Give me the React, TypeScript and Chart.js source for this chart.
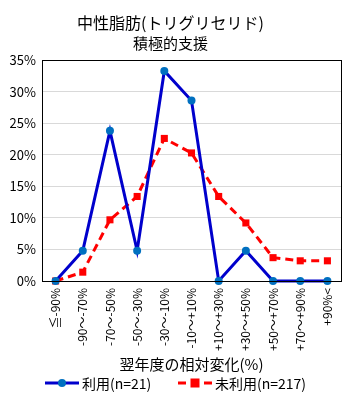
import React, { useEffect, useRef } from "react";
import { Chart, registerables } from "chart.js";

Chart.register(...registerables);

const FONT = "'Noto Sans CJK JP', 'Noto Sans', sans-serif";

const titleText = "中性脂肪(トリグリセリド)";
const subtitleText = "積極的支援";
const xAxisTitle = "翌年度の相対変化(%)";

const categories = [
  "≦-90%",
  "-90～-70%",
  "-70～-50%",
  "-50～-30%",
  "-30～-10%",
  "-10～+10%",
  "+10～+30%",
  "+30～+50%",
  "+50～+70%",
  "+70～+90%",
  "+90%<",
];

const usedLabel = "利用(n=21)";
const usedValues = [0, 4.8, 23.8, 4.8, 33.3, 28.6, 0, 4.8, 0, 0, 0];

const unusedLabel = "未利用(n=217)";
const unusedValues = [0, 1.4, 9.7, 13.4, 22.6, 20.3, 13.4, 9.2, 3.7, 3.2, 3.2];

const yMin = 0;
const yMax = 35;
const yStep = 5;

const legendPlugin = {
  id: "customLegend",
  afterDraw(chart: any) {
    const ctx = chart.ctx;
    const y = 383;
    ctx.save();
    ctx.font = `14px ${FONT}`;
    ctx.textBaseline = "middle";
    ctx.fillStyle = "#000";
    const items = [
      { x: 45, ds: chart.data.datasets[0] },
      { x: 178, ds: chart.data.datasets[1] },
    ];
    items.forEach(({ x, ds }) => {
      const lw = 34;
      ctx.strokeStyle = ds.borderColor;
      ctx.lineWidth = 3;
      ctx.setLineDash(ds.borderDash || []);
      ctx.beginPath();
      ctx.moveTo(x, y);
      ctx.lineTo(x + lw, y);
      ctx.stroke();
      ctx.setLineDash([]);
      ctx.fillStyle = ds.pointBackgroundColor;
      if (ds.pointStyle === "rect") {
        ctx.fillRect(x + lw / 2 - 4.5, y - 4.5, 9, 9);
      } else {
        ctx.beginPath();
        ctx.arc(x + lw / 2, y, 4, 0, Math.PI * 2);
        ctx.fill();
      }
      ctx.fillStyle = "#000";
      ctx.textAlign = "left";
      ctx.fillText(ds.label, x + lw + 3, y + 1);
    });
    ctx.restore();
  },
};

const borderPlugin = {
  id: "plotBorder",
  afterDatasetsDraw(chart: any) {
    const { ctx, chartArea } = chart;
    ctx.save();
    ctx.strokeStyle = "#000";
    ctx.lineWidth = 1;
    ctx.strokeRect(
      Math.round(chartArea.left) + 0.5,
      Math.round(chartArea.top) + 0.5,
      Math.round(chartArea.right - chartArea.left),
      Math.round(chartArea.bottom - chartArea.top)
    );
    ctx.restore();
  },
};

export default function App() {
  const ref = useRef<HTMLCanvasElement>(null);

  useEffect(() => {
    document.body.style.margin = "0";
    const canvas = ref.current;
    if (!canvas) return;
    const chart = new Chart(canvas, {
      type: "line",
      data: {
        labels: categories,
        datasets: [
          {
            label: usedLabel,
            data: usedValues,
            borderColor: "#0000CC",
            borderWidth: 3,
            pointStyle: "circle",
            pointRadius: 4,
            pointBackgroundColor: "#0070C0",
            pointBorderColor: "#0070C0",
            pointBorderWidth: 0,
            tension: 0,
            clip: false,
          } as any,
          {
            label: unusedLabel,
            data: unusedValues,
            borderColor: "#FF0000",
            borderWidth: 3,
            borderDash: [8, 5],
            pointStyle: "rect",
            pointRadius: 5,
            pointBackgroundColor: "#FF0000",
            pointBorderColor: "#FF0000",
            pointBorderWidth: 0,
            tension: 0,
            clip: false,
          } as any,
        ],
      },
      options: {
        animation: false,
        responsive: false,
        devicePixelRatio: 1,
        layout: { padding: { left: 0, right: 14, top: 0, bottom: 28 } },
        plugins: {
          legend: { display: false },
          tooltip: { enabled: false },
          title: {
            display: true,
            text: titleText,
            color: "#000",
            font: { family: FONT, size: 16, weight: "normal" },
            padding: { top: 13, bottom: 2 },
          },
          subtitle: {
            display: true,
            text: subtitleText,
            color: "#000",
            font: { family: FONT, size: 15, weight: "normal" },
            padding: { top: 0, bottom: 8 },
          },
        },
        scales: {
          x: {
            offset: true,
            grid: { display: false, drawTicks: false },
            border: { display: true, color: "#000" },
            ticks: {
              color: "#000",
              font: { family: FONT, size: 12 },
              maxRotation: 90,
              minRotation: 90,
              autoSkip: false,
              padding: 7,
            },
            title: {
              display: true,
              text: xAxisTitle,
              color: "#000",
              font: { family: FONT, size: 15 },
              padding: { top: 0, bottom: 0 },
            },
            afterFit(scale: any) {
              scale.height = 92;
            },
          },
          y: {
            min: yMin,
            max: yMax,
            grid: { color: "#D9D9D9", drawTicks: false },
            border: { display: true, color: "#000" },
            ticks: {
              stepSize: yStep,
              color: "#000",
              font: { family: FONT, size: 13 },
              padding: 6,
              callback: (v: any) => `${v}%`,
            },
            afterFit(scale: any) {
              scale.width = 42;
            },
          },
        },
      },
      plugins: [borderPlugin, legendPlugin],
    });
    return () => chart.destroy();
  }, []);

  return <canvas ref={ref} width={355} height={401} style={{ display: "block" }} />;
}
